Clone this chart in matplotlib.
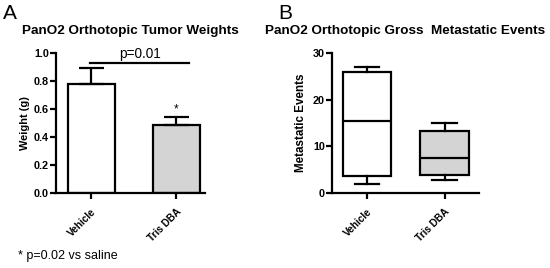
#!/usr/bin/env python3
"""PanO2 orthotopic: tumor weights (A) and gross metastatic events (B)."""

import matplotlib.pyplot as plt

plt.rcParams["font.family"] = ["Liberation Sans", "DejaVu Sans"]

groups = ["Vehicle", "Tris DBA"]
fills = ["white", "#d4d4d4"]

# panel A: mean weight (g) and upper error
weight_mean = [0.78, 0.487]
weight_err = [0.113, 0.055]

# panel B: box stats (min, q1, median, q3, max)
met_min = [2.0, 2.8]
met_q1 = [3.7, 3.8]
met_med = [15.4, 7.5]
met_q3 = [26.0, 13.3]
met_max = [27.0, 14.9]

LW = 1.6


def style_axes(ax):
    for side in ["top", "right"]:
        ax.spines[side].set_visible(False)
    for side in ["left", "bottom"]:
        ax.spines[side].set_linewidth(LW)
    ax.tick_params(width=LW, length=4, labelsize=7.8, pad=1)
    ax.tick_params(axis="x", pad=6)
    for lab in ax.get_yticklabels():
        lab.set_fontweight("bold")
    ax.set_xticks(range(len(groups)))
    ax.set_xticklabels(groups, rotation=45, ha="right", rotation_mode="anchor",
                       fontsize=7.2, fontweight="bold")


fig = plt.figure(figsize=(5.5, 2.68), dpi=100)

# ---- panel A
axA = fig.add_axes([0.1018, 0.2799, 0.2709, 0.5223])
x = range(len(groups))
axA.bar(x, weight_mean, width=0.553, color=fills, edgecolor="black",
        linewidth=LW, zorder=2)
for i in x:
    axA.errorbar(i, weight_mean[i], yerr=[[0], [weight_err[i]]], color="black",
                 capsize=9, elinewidth=LW, capthick=LW, zorder=3)
axA.set_ylim(0, 1.0)
axA.set_xlim(-0.412, 1.341)
axA.set_yticks([0.0, 0.2, 0.4, 0.6, 0.8, 1.0])
axA.set_yticklabels(["0.0", "0.2", "0.4", "0.6", "0.8", "1.0"])
style_axes(axA)
axA.set_ylabel("Weight (g)", fontsize=7.9, fontweight="bold", labelpad=3)
axA.plot([-0.01, 1.15], [0.929, 0.929], color="black", lw=LW, clip_on=False)
axA.text(0.58, 0.945, "p=0.01", ha="center", va="bottom", fontsize=9.8)
axA.text(1, weight_mean[1] + weight_err[1] + 0.015, "*", ha="center",
         va="bottom", fontsize=8.5)
axA.set_title("PanO2 Orthotopic Tumor Weights", fontsize=9.7,
              fontweight="bold", pad=13.5)

# ---- panel B
axB = fig.add_axes([0.6036, 0.2799, 0.2673, 0.5223])
stats = []
for i, g in enumerate(groups):
    stats.append({"label": g, "whislo": met_min[i], "q1": met_q1[i],
                  "med": met_med[i], "q3": met_q3[i], "whishi": met_max[i],
                  "fliers": []})
bp = axB.bxp(stats, positions=list(x), widths=0.62, patch_artist=True,
             showfliers=False,
             boxprops=dict(linewidth=LW, edgecolor="black"),
             medianprops=dict(linewidth=LW, color="black"),
             whiskerprops=dict(linewidth=LW, color="black"),
             capprops=dict(linewidth=LW, color="black"),
             capwidths=0.31)
for patch, c in zip(bp["boxes"], fills):
    patch.set_facecolor(c)
axB.set_ylim(0, 30)
axB.set_xlim(-0.452, 1.445)
axB.set_yticks([0, 10, 20, 30])
style_axes(axB)
axB.set_ylabel("Metastatic Events", fontsize=8.4, fontweight="bold", labelpad=4)
axB.set_title("PanO2 Orthotopic Gross  Metastatic Events", fontsize=9.7,
              fontweight="bold", pad=13.5)

# panel letters and footnote
fig.text(0.005, 0.985, "A", fontsize=15, va="top", ha="left")
fig.text(0.505, 0.985, "B", fontsize=15, va="top", ha="left")
fig.text(0.032, 0.045, "* p=0.02 vs saline", fontsize=9, va="center", ha="left")

fig.savefig("out.png", dpi=100)
